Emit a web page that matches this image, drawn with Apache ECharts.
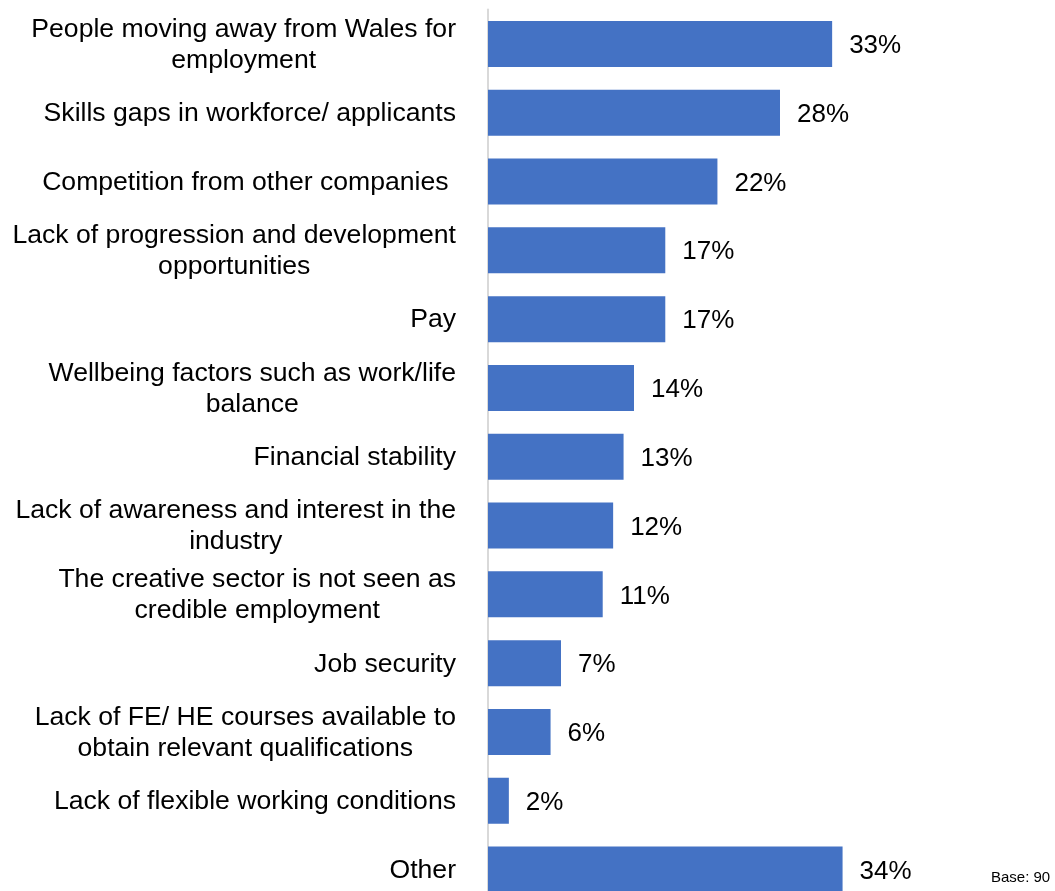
<!DOCTYPE html>
<html>
<head>
<meta charset="utf-8">
<script src="https://cdn.jsdelivr.net/npm/echarts@6/dist/echarts.min.js"></script>
<style>
  html, body { margin: 0; padding: 0; background: #ffffff; overflow: hidden; }
  /* the last bar runs past the bottom edge of the page */
  #chart { width: 1055px; height: 904px; }
</style>
</head>
<body>
<div id="chart"></div>
<script>
// Reasons behind recruitment difficulties (share of respondents, %)
const categories = [
  'People moving away from Wales for\nemployment',
  'Skills gaps in workforce/ applicants',
  'Competition from other companies ',
  'Lack of progression and development\nopportunities',
  'Pay',
  'Wellbeing factors such as work/life\nbalance',
  'Financial stability',
  'Lack of awareness and interest in the\nindustry',
  'The creative sector is not seen as\ncredible employment',
  'Job security',
  'Lack of FE/ HE courses available to\nobtain relevant qualifications',
  'Lack of flexible working conditions',
  'Other'
];
const values = [33, 28, 22, 17, 17, 14, 13, 12, 11, 7, 6, 2, 34];
const baseNote = 'Base: 90';

const FONT = 'Liberation Sans, Arial, sans-serif';

const chart = echarts.init(document.getElementById('chart'), null, { renderer: 'canvas' });

chart.setOption({
  animation: false,
  backgroundColor: '#ffffff',
  grid: { left: 488, top: 9.5, width: 365, bottom: 0, containLabel: false },
  xAxis: {
    type: 'value',
    min: 0,
    max: 35,
    show: false
  },
  yAxis: {
    type: 'category',
    data: categories,
    inverse: true,
    axisLine: { show: true, lineStyle: { color: '#d9d9d9', width: 2 } },
    axisTick: { show: false },
    splitLine: { show: false },
    axisLabel: {
      margin: 32,
      align: 'right',
      color: '#000000',
      fontFamily: FONT,
      fontSize: 26.6,
      lineHeight: 31,
      // each line centred within the right-aligned label block
      formatter: function (v) {
        return v.split('\n').map(function (l) { return '{c|' + l + '}'; }).join('\n');
      },
      rich: {
        c: { align: 'center', fontFamily: FONT, fontSize: 26.6, lineHeight: 31, color: '#000000', padding: [2, 0, 0, 0] }
      }
    }
  },
  series: [{
    type: 'bar',
    data: values,
    barWidth: 46,
    itemStyle: { color: '#4472c4' },
    label: {
      show: true,
      position: 'right',
      distance: 17,
      offset: [0, 2],
      formatter: '{c}%',
      color: '#000000',
      fontFamily: FONT,
      fontSize: 26
    }
  }],
  graphic: [{
    type: 'text',
    left: 991,
    top: 870,
    style: { text: baseNote, fill: '#000000', font: '15px ' + FONT }
  }]
});
</script>
</body>
</html>
